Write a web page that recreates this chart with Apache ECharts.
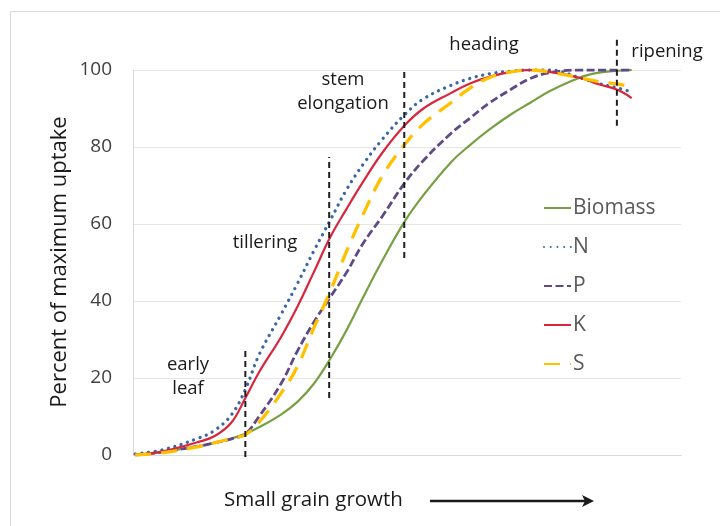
<!DOCTYPE html>
<html><head><meta charset="utf-8">
<script src="https://cdn.jsdelivr.net/npm/echarts@6/dist/echarts.min.js"></script>
<style>html,body{margin:0;padding:0;background:#fff}#c{width:720px;height:526px}</style>
</head><body><div id="c"></div>
<script>
// growth stage position (0-100 along the x axis)
const growth  = [0.4, 5, 12, 15, 18, 20.5, 23, 27, 30, 33, 36, 39, 42, 45.5, 49.5, 53, 58, 61.5, 65, 69, 72.5, 76, 81.5, 85, 88.5, 91];
const biomass = [0, 0.8, 2.3, 3.2, 4.3, 5.5, 7.2, 10.5, 13.8, 18.5, 25, 32.5, 41, 50.5, 60.5, 67.5, 76, 80.5, 84.5, 88.5, 91.5, 94.5, 98, 99.3, 99.8, 100];
const nUptake = [0.3, 1.2, 4.4, 6.5, 10.5, 17, 26, 36.5, 44.5, 53, 61, 69, 75.5, 82, 88.3, 92.5, 96, 97.8, 99, 99.7, 100, 100, 98, 96.5, 95.3, 94.3];
const pUptake = [0, 0.7, 2.3, 3.2, 4.2, 5.5, 10, 18.5, 27, 34.5, 41, 47.5, 55, 62, 70.5, 76.5, 83.5, 87.5, 91.4, 95, 97.8, 99.3, 100, 100, 100, 100];
const kUptake = [0, 0.8, 3.4, 5, 8.5, 14.8, 21.5, 30.6, 38.5, 47.5, 56.6, 64, 71, 78.5, 85.5, 90, 94, 96.5, 98.2, 99.5, 100, 99.5, 98, 96.3, 94.8, 92.7];
const sUptake = [0, 0.5, 2.2, 3.2, 4.3, 5.3, 8.5, 16, 23, 33, 42.5, 53, 62.5, 72.5, 80.5, 86, 91.5, 95.3, 98, 99.5, 100, 99.5, 98, 97, 96.3, 95.6];
const seriesNames = ['Biomass', 'N', 'P', 'K', 'S'];
const yTicks = [0, 20, 40, 60, 80, 100];
// growth stage marker lines
const stageX    = [20.5, 35.8, 49.5, 88.3];
const stageLow  = [-0.5, 14.8, 51.2, 85.5];
const stageHigh = [27.3, 77.4, 99.5, 108.3];
const stageLabels = ['early\nleaf', 'tillering', 'stem\nelongation', 'heading', 'ripening'];

const FONT = '"Open Sans"';
const chart = echarts.init(document.getElementById('c'), null, {renderer: 'canvas'});
const pair = arr => growth.map((g, i) => [g, arr[i]]);
const styles = [
  {color: '#77A043', width: 2.2, type: 'solid'},
  {color: '#3A67A3', width: 3.3, type: [0.01, 6.7], cap: 'round'},
  {color: '#5E4A86', width: 2.8, type: [8, 3.5]},
  {color: '#D7263D', width: 2.2, type: 'solid'},
  {color: '#FFC000', width: 3.3, type: [16, 10]}
];
const dataSets = [biomass, nUptake, pUptake, kUptake, sUptake];
const series = seriesNames.map((n, i) => ({
  name: n, type: 'line', data: pair(dataSets[i]), smooth: 0.4, symbol: 'none',
  color: styles[i].color,
  lineStyle: {color: styles[i].color, width: styles[i].width, type: styles[i].type, cap: styles[i].cap || 'butt'},
  z: 3 + i
}));
stageX.forEach((x, i) => series.push({
  name: 'stage' + i, type: 'line', symbol: 'none', clip: false, silent: true, z: 10,
  data: [[x, stageLow[i]], [x, stageHigh[i]]],
  lineStyle: {color: '#1f1f1f', width: 2, type: [6, 4]}
}));

const txt = (t, x, y, extra) => Object.assign({type: 'text', x, y, style: {text: t, font: '18.5px ' + FONT, fill: '#1a1a1a', align: 'center', verticalAlign: 'middle', lineHeight: 24}}, extra || {});

chart.setOption({
  animation: false,
  grid: {left: 133, top: 70, right: 39, bottom: 71, containLabel: false},
  xAxis: {type: 'value', min: 0, max: 100, axisLabel: {show: false}, axisTick: {show: false}, splitLine: {show: false},
    axisLine: {show: true, lineStyle: {color: '#D9D9D9', width: 1}}},
  yAxis: {type: 'value', min: yTicks[0], max: yTicks[yTicks.length - 1], interval: 20,
    axisLabel: {color: '#404040', fontSize: 19, fontFamily: FONT, margin: 21},
    axisTick: {show: false}, axisLine: {show: true, lineStyle: {color: '#D9D9D9'}},
    splitLine: {lineStyle: {color: '#E6E6E6', width: 1}}},
  legend: {orient: 'vertical', left: 543, top: 197, padding: 0, data: seriesNames, itemWidth: 27, itemHeight: 14, itemGap: 17,
    itemStyle: {opacity: 0},
    textStyle: {color: '#595959', fontSize: 21, fontFamily: FONT, lineHeight: 22, padding: [0, 0, 0, -3]}},
  series,
  graphic: [
    {type: 'rect', shape: {x: 10.5, y: 11.5, width: 720, height: 530}, style: {fill: 'none', stroke: '#D9D9D9', lineWidth: 1}, silent: true, z: -1},
    {type: 'text', x: 60, y: 262, rotation: Math.PI / 2, style: {text: 'Percent of maximum uptake', font: '22px ' + FONT, fill: '#1a1a1a', align: 'center', verticalAlign: 'middle'}},
    txt(stageLabels[0], 188, 377),
    txt(stageLabels[1], 265, 243),
    txt(stageLabels[2], 343, 92),
    txt(stageLabels[3], 484, 45),
    txt(stageLabels[4], 667, 52),
    {type: 'text', x: 224, y: 500, style: {text: 'Small grain growth', font: '20.5px ' + FONT, fill: '#1a1a1a', align: 'left', verticalAlign: 'middle'}},
    {type: 'line', shape: {x1: 430, y1: 501, x2: 588, y2: 501}, style: {stroke: '#1a1a1a', lineWidth: 2.5}},
    {type: 'polygon', shape: {points: [[594, 501], [582, 495], [585, 501], [582, 507]]}, style: {fill: '#1a1a1a'}}
  ]
});
</script></body></html>
